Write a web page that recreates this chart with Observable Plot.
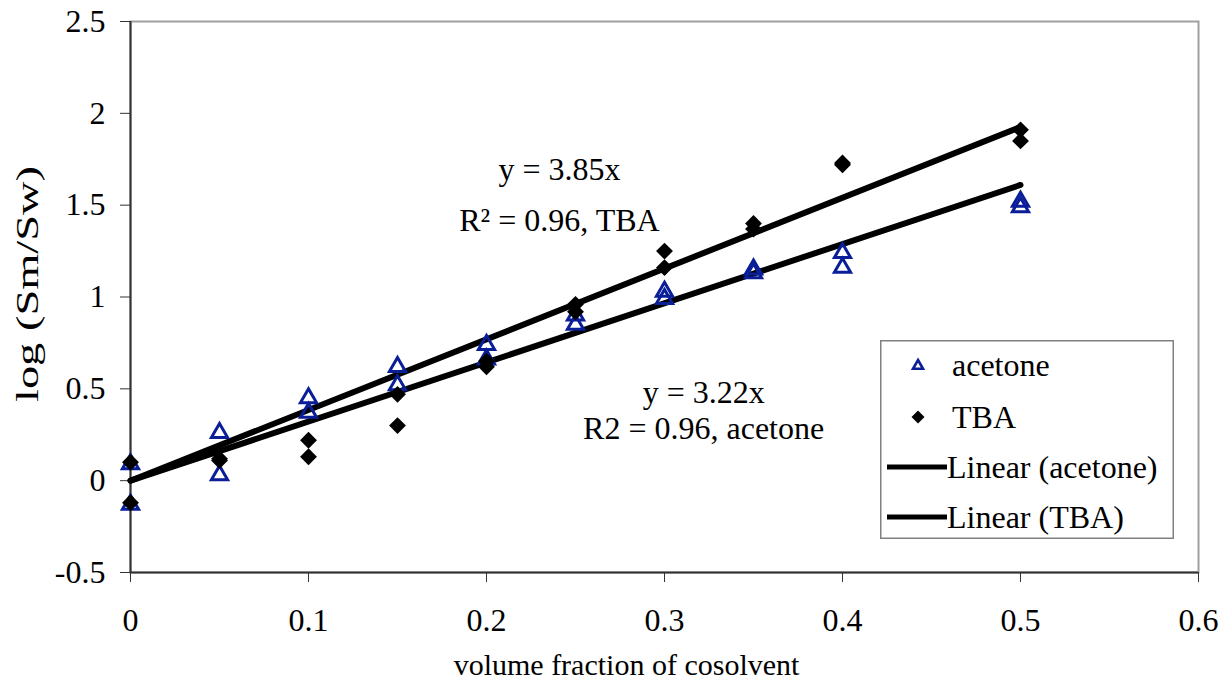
<!DOCTYPE html>
<html>
<head>
<meta charset="utf-8">
<script src="https://cdn.jsdelivr.net/npm/d3@7"></script>
<script src="https://cdn.jsdelivr.net/npm/@observablehq/plot@0.6"></script>
<style>
  html, body { margin: 0; padding: 0; background: #fff; }
  #wrap { position: relative; width: 1223px; height: 681px; font-family: "Liberation Serif", "Times New Roman", serif; }
  #legend { position: absolute; left: 880px; top: 340px; }
</style>
</head>
<body>
<div id="wrap"></div>
<script>
// ---- data ----
const acetoneX = [0, 0, 0.05, 0.05, 0.1, 0.1, 0.15, 0.15, 0.2, 0.2, 0.25, 0.25, 0.3, 0.3, 0.35, 0.35, 0.4, 0.4, 0.5, 0.5];
const acetoneY = [0.09, -0.13, 0.26, 0.03, 0.45, 0.37, 0.62, 0.52, 0.74, 0.66, 0.90, 0.85, 1.03, 0.99, 1.15, 1.13, 1.24, 1.16, 1.52, 1.49];
const tbaX = [0, 0, 0.05, 0.05, 0.1, 0.1, 0.15, 0.15, 0.2, 0.2, 0.25, 0.25, 0.3, 0.3, 0.35, 0.35, 0.4, 0.4, 0.5, 0.5];
const tbaY = [0.10, -0.12, 0.12, 0.11, 0.22, 0.13, 0.47, 0.30, 0.65, 0.62, 0.96, 0.92, 1.25, 1.16, 1.40, 1.37, 1.73, 1.72, 1.91, 1.85];
const fitNames = ["acetone", "TBA"];
const fitSlopes = [3.22, 3.85];
const fitRange = [0, 0.5];
const xTicks = [0, 0.1, 0.2, 0.3, 0.4, 0.5, 0.6];
const yTicks = [-0.5, 0, 0.5, 1, 1.5, 2, 2.5];
const annotations = [
  {x: 0.241, y: 1.693, text: "y = 3.85x"},
  {x: 0.241, y: 1.417, text: "R\u00B2 = 0.96, TBA"},
  {x: 0.322, y: 0.480, text: "y = 3.22x"},
  {x: 0.322, y: 0.284, text: "R2 = 0.96, acetone"}
];
const xTitle = "volume fraction of cosolvent";
const yTitle = "log (Sm/Sw)";
const legendItems = ["acetone", "TBA", "Linear (acetone)", "Linear (TBA)"];

// ---- derived tables ----
const acetone = acetoneX.map((x, i) => ({x, y: acetoneY[i]}));
const tba = tbaX.map((x, i) => ({x, y: tbaY[i]}));
const fits = fitNames.flatMap((name, k) => fitRange.map(x => ({name, x, y: fitSlopes[k] * x})));

const BLUE = "#0a1e98";
const FONT = "'Liberation Serif', 'Times New Roman', serif";

const chart = Plot.plot({
  width: 1223,
  height: 681,
  marginLeft: 130,
  marginRight: 25,
  marginTop: 21,
  marginBottom: 109,
  style: {fontFamily: FONT, fontSize: "32px", color: "#000", background: "#fff"},
  x: {domain: [0, 0.6]},
  y: {domain: [-0.5, 2.5]},
  marks: [
    Plot.frame({stroke: "#a0a0a0", strokeWidth: 2}),
    Plot.axisX({ticks: xTicks, tickSize: 10, tickPadding: 26, tickFormat: d => String(d), label: null, stroke: "#333", fontSize: 32}),
    Plot.axisY({ticks: yTicks, tickSize: 10, tickPadding: 15, tickFormat: d => String(d), label: null, stroke: "#333", fontSize: 32}),
    Plot.ruleX([0], {stroke: "#333", strokeWidth: 2}),
    Plot.ruleY([-0.5], {stroke: "#333", strokeWidth: 2}),
    Plot.line(fits, {x: "x", y: "y", z: "name", stroke: "#000", strokeWidth: 6}),
    Plot.dot(acetone, {x: "x", y: "y", symbol: "triangle", r: 6, stroke: BLUE, strokeWidth: 3, fill: "none"}),
    Plot.dot(tba, {x: "x", y: "y", symbol: "diamond2", r: 7.6, fill: "#000", stroke: "none"}),
    Plot.text(annotations, {x: "x", y: "y", text: "text", fontSize: 32, fill: "#000", textAnchor: "middle"}),
    Plot.text([xTitle], {frameAnchor: "bottom", lineAnchor: "middle", dx: -38, dy: 93, fontSize: 30, fill: "#000"}),
    Plot.text([yTitle], {frameAnchor: "left", lineAnchor: "middle", textAnchor: "start", dx: -103, dy: -13, rotate: -90, fontSize: 32, fill: "#000", className: "ytitle"})
  ]
});
document.getElementById("wrap").appendChild(chart);
// the reference's y title is drawn stretched along its length
const Y_TITLE_LEN = 236;
chart.querySelectorAll("g.ytitle text").forEach(t => {
  t.setAttribute("text-anchor", "start");
  t.setAttribute("x", -Y_TITLE_LEN / 2);
  t.setAttribute("textLength", Y_TITLE_LEN);
  t.setAttribute("lengthAdjust", "spacingAndGlyphs");
});

// ---- legend (inside the plot area, as in the reference) ----
const ns = "http://www.w3.org/2000/svg";
const lg = document.createElementNS(ns, "svg");
lg.setAttribute("id", "legend");
lg.setAttribute("width", 294);
lg.setAttribute("height", 199);
lg.style.fontFamily = FONT;
const box = document.createElementNS(ns, "rect");
box.setAttribute("x", 0.75); box.setAttribute("y", 0.75);
box.setAttribute("width", 292.5); box.setAttribute("height", 197.5);
box.setAttribute("fill", "#fff"); box.setAttribute("stroke", "#808080"); box.setAttribute("stroke-width", 1.5);
lg.appendChild(box);
const rowY = [25, 77, 127, 177];
legendItems.forEach((label, i) => {
  const cy = rowY[i];
  if (i === 0) {
    const p = document.createElementNS(ns, "path");
    const s = 5;
    p.setAttribute("d", `M38,${cy - s} L${38 + s},${cy + s * 0.75} L${38 - s},${cy + s * 0.75} Z`);
    p.setAttribute("fill", "none"); p.setAttribute("stroke", BLUE); p.setAttribute("stroke-width", 2.6);
    lg.appendChild(p);
  } else if (i === 1) {
    const p = document.createElementNS(ns, "path");
    const s = 6.5;
    p.setAttribute("d", `M38,${cy - s} L${38 + s},${cy} L38,${cy + s} L${38 - s},${cy} Z`);
    p.setAttribute("fill", "#000");
    lg.appendChild(p);
  } else {
    const l = document.createElementNS(ns, "line");
    l.setAttribute("x1", 7); l.setAttribute("x2", 67);
    l.setAttribute("y1", cy); l.setAttribute("y2", cy);
    l.setAttribute("stroke", "#000"); l.setAttribute("stroke-width", 5);
    lg.appendChild(l);
  }
  const t = document.createElementNS(ns, "text");
  t.setAttribute("x", i < 2 ? 72 : 67);
  t.setAttribute("y", cy);
  t.setAttribute("dy", "0.34em");
  t.setAttribute("font-size", 32);
  t.textContent = label;
  lg.appendChild(t);
});
document.getElementById("wrap").appendChild(lg);
</script>
</body>
</html>
